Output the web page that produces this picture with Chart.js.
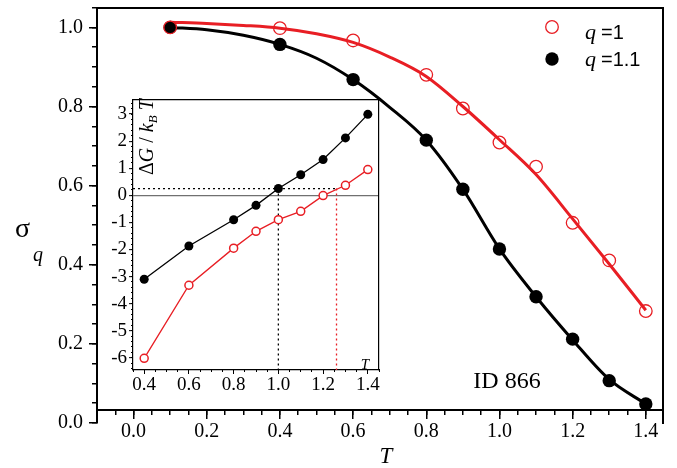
<!DOCTYPE html>
<html>
<head>
<meta charset="utf-8">
<script src="https://cdn.jsdelivr.net/npm/chart.js@4.4.0/dist/chart.umd.min.js"></script>
<style>
    html, body { margin: 0; padding: 0; background: #fff; }
    #wrap { position: relative; width: 677px; height: 468px; }
    #main { position: absolute; left: 0; top: 0; }
    #inset { position: absolute; left: 95px; top: 88px; }
    #textos { position: absolute; left: 0; top: 0; pointer-events: none; }
</style>
</head>
<body>
<div id="wrap">
    <canvas id="main" width="677" height="468"></canvas>
    <canvas id="inset" width="292" height="310"></canvas>
    <canvas id="textos" width="677" height="468"></canvas>
</div>
<script>
/*******************************************************************************/
// Datos

// grafico principal: sigma_q vs T
const tData = [0.1, 0.4, 0.6, 0.8, 0.9, 1.0, 1.1, 1.2, 1.3, 1.4];
const sigmaQ1 = [1.0, 0.998, 0.967, 0.880, 0.795, 0.709, 0.648, 0.506, 0.411, 0.283];
const sigmaQ11 = [1.0, 0.957, 0.868, 0.715, 0.591, 0.440, 0.319, 0.212, 0.107, 0.048];

// curvas de ajuste
const tFit = [0.1, 0.2, 0.3, 0.4, 0.5, 0.6, 0.7, 0.8, 0.9, 1.0, 1.1, 1.2, 1.3, 1.4];
const fitQ1 = [1.013, 1.010, 1.005, 0.998, 0.984, 0.962, 0.925, 0.876, 0.800, 0.716, 0.628, 0.516, 0.402, 0.285];
const fitQ11 = [1.0, 0.994, 0.980, 0.957, 0.922, 0.868, 0.798, 0.715, 0.591, 0.440, 0.319, 0.210, 0.110, 0.048];

const mainXTicks = [0.0, 0.2, 0.4, 0.6, 0.8, 1.0, 1.2, 1.4];
const mainYTicks = [0.0, 0.2, 0.4, 0.6, 0.8, 1.0];

// inset: dG / kT vs T
const tInset = [0.4, 0.6, 0.8, 0.9, 1.0, 1.1, 1.2, 1.3, 1.4];
const dgQ1 = [-6.02, -3.32, -1.95, -1.33, -0.90, -0.59, -0.01, 0.37, 0.95];
const dgQ11 = [-3.10, -1.87, -0.90, -0.37, 0.25, 0.76, 1.32, 2.12, 2.99];
const dgLevel = 0.25;
const tCrossQ11 = 1.0;
const tCrossQ1 = 1.26;

const insetXTicks = [0.4, 0.6, 0.8, 1.0, 1.2, 1.4];
const insetYTicks = [-6, -5, -4, -3, -2, -1, 0, 1, 2, 3];

/*******************************************************************************/
// Estilos

const RED = "rgb(232, 30, 36)";
const SERIF = "'Liberation Serif', 'Times New Roman', serif";
const SANS = "'Liberation Sans', Arial, sans-serif";

const X_MIN = -0.1, X_MAX = 1.447, Y_MIN = 0, Y_MAX = 1.05;
const X_AXIS_AT = 0.032;
const IX_MIN = 0.35, IX_MAX = 1.45, IY_MIN = -6.45, IY_MAX = 3.52;

function pares(xs, ys) {
    return xs.map((x, i) => ({ x: x, y: ys[i] }));
}

function fijarEje(size) {
    return function (scale) {
        if (size) {
            if (scale.isHorizontal()) scale.height = size;
            else scale.width = size;
        }
        scale.paddingTop = 0;
        scale.paddingBottom = 0;
        scale.paddingLeft = 0;
        scale.paddingRight = 0;
    };
}

function usarTicks(lista) {
    return function (scale) {
        scale.ticks = lista.map((v) => ({ value: v }));
    };
}

// eje sin etiquetas: solo marcas menores o solo el borde
function ejeExtra(axis, min, max, position, step, tickLength, lineWidth, borde) {
    return {
        type: "linear",
        axis: axis,
        min: min,
        max: max,
        position: position,
        ticks: { display: false, stepSize: step || 1, includeBounds: false },
        grid: {
            drawOnChartArea: false,
            drawTicks: tickLength > 0,
            tickLength: tickLength,
            color: "#000",
            tickColor: "#000",
            lineWidth: lineWidth
        },
        border: { display: borde, color: "#000", width: lineWidth },
        afterFit: fijarEje(0)
    };
}

/*******************************************************************************/
// Grafico principal

const fuenteTicks = { family: SERIF, size: 20 };

new Chart(document.getElementById("main"), {
    type: "scatter",
    data: {
        datasets: [
            {
                label: "q = 1",
                data: pares(tData, sigmaQ1),
                showLine: false,
                pointRadius: 6.3,
                pointBorderWidth: 1.3,
                pointBorderColor: RED,
                pointBackgroundColor: "rgba(0,0,0,0)",
                order: 0
            },
            {
                label: "q = 1.1",
                data: pares(tData, sigmaQ11),
                showLine: false,
                pointRadius: 6.7,
                pointBorderWidth: 0,
                pointBackgroundColor: "#000",
                order: 1
            },
            {
                label: "ajuste q = 1",
                data: pares(tFit, fitQ1),
                showLine: true,
                borderColor: RED,
                borderWidth: 3,
                pointRadius: 0,
                cubicInterpolationMode: "monotone",
                order: 2
            },
            {
                label: "ajuste q = 1.1",
                data: pares(tFit, fitQ11),
                showLine: true,
                borderColor: "#000",
                borderWidth: 3,
                pointRadius: 0,
                cubicInterpolationMode: "monotone",
                order: 3
            }
        ]
    },
    options: {
        responsive: false,
        animation: false,
        events: [],
        layout: { padding: { left: 0, right: 14, top: 6, bottom: 45 } },
        plugins: { legend: { display: false }, tooltip: { enabled: false } },
        scales: {
            x: {
                type: "linear",
                min: X_MIN,
                max: X_MAX,
                position: { y: X_AXIS_AT },
                afterBuildTicks: usarTicks(mainXTicks),
                ticks: {
                    autoSkip: false,
                    padding: 1,
                    color: "#000",
                    font: fuenteTicks,
                    callback: (v) => Number(v).toFixed(1)
                },
                grid: { drawOnChartArea: false, tickLength: 8, color: "#000", tickColor: "#000", lineWidth: 1.5 },
                border: { color: "#000", width: 2 },
                afterFit: fijarEje(0)
            },
            xMenor: ejeExtra("x", X_MIN, X_MAX, { y: X_AXIS_AT }, 0.05, 5, 1.5, false),
            xArriba: ejeExtra("x", X_MIN, X_MAX, { y: Y_MAX }, 1, 0, 2, true),
            y: {
                type: "linear",
                min: Y_MIN,
                max: Y_MAX,
                position: "left",
                afterBuildTicks: usarTicks(mainYTicks),
                ticks: {
                    padding: 6,
                    color: "#000",
                    font: fuenteTicks,
                    callback: (v) => Number(v).toFixed(1)
                },
                grid: { drawOnChartArea: false, tickLength: 8, color: "#000", tickColor: "#000", lineWidth: 1.5 },
                border: { color: "#000", width: 2 },
                afterFit: fijarEje(97)
            },
            yMenor: ejeExtra("y", Y_MIN, Y_MAX, { x: X_MIN }, 0.05, 5, 1.5, false),
            yDerecha: ejeExtra("y", Y_MIN, Y_MAX, { x: X_MAX }, 1, 0, 2, true)
        }
    }
});

/*******************************************************************************/
// Inset

const punteada = [2, 3];
const fuenteInset = { family: SERIF, size: 19 };

new Chart(document.getElementById("inset"), {
    type: "scatter",
    data: {
        datasets: [
            {
                label: "q = 1",
                data: pares(tInset, dgQ1),
                showLine: true,
                borderColor: RED,
                borderWidth: 1.3,
                pointRadius: 4,
                pointBorderWidth: 1.5,
                pointBorderColor: RED,
                pointBackgroundColor: "#fff",
                order: 0
            },
            {
                label: "q = 1.1",
                data: pares(tInset, dgQ11),
                showLine: true,
                borderColor: "#000",
                borderWidth: 1.3,
                pointRadius: 4.5,
                pointBorderWidth: 0,
                pointBackgroundColor: "#000",
                order: 1
            },
            {
                label: "nivel",
                data: [{ x: IX_MIN, y: dgLevel }, { x: tCrossQ1, y: dgLevel }],
                showLine: true,
                borderColor: "#000",
                borderWidth: 1.3,
                borderDash: punteada,
                pointRadius: 0,
                order: 2
            },
            {
                label: "Tc q = 1.1",
                data: [{ x: tCrossQ11, y: dgLevel }, { x: tCrossQ11, y: IY_MIN }],
                showLine: true,
                borderColor: "#000",
                borderWidth: 1.3,
                borderDash: punteada,
                pointRadius: 0,
                order: 3
            },
            {
                label: "Tc q = 1",
                data: [{ x: tCrossQ1, y: dgLevel }, { x: tCrossQ1, y: IY_MIN }],
                showLine: true,
                borderColor: RED,
                borderWidth: 1.3,
                borderDash: punteada,
                pointRadius: 0,
                order: 4
            }
        ]
    },
    options: {
        responsive: false,
        animation: false,
        events: [],
        layout: { padding: { left: 0, right: 8, top: 12, bottom: 0 } },
        plugins: { legend: { display: false }, tooltip: { enabled: false } },
        scales: {
            x: {
                type: "linear",
                min: IX_MIN,
                max: IX_MAX,
                position: "bottom",
                afterBuildTicks: usarTicks(insetXTicks),
                ticks: {
                    autoSkip: false,
                    padding: 0,
                    color: "#000",
                    font: fuenteInset,
                    callback: (v) => Number(v).toFixed(1)
                },
                grid: { drawOnChartArea: false, tickLength: 4, color: "#000", tickColor: "#000", lineWidth: 1 },
                border: { color: "#000", width: 1.2 },
                afterFit: fijarEje(28)
            },
            xMenor: ejeExtra("x", IX_MIN, IX_MAX, { y: IY_MIN }, 0.05, 2, 1, false),
            xArriba: ejeExtra("x", IX_MIN, IX_MAX, { y: IY_MAX }, 1, 0, 1.2, true),
            y: {
                type: "linear",
                min: IY_MIN,
                max: IY_MAX,
                position: "left",
                afterBuildTicks: usarTicks(insetYTicks),
                ticks: {
                    padding: 2,
                    color: "#000",
                    font: fuenteInset
                },
                grid: {
                    drawOnChartArea: true,
                    tickLength: 4,
                    color: (c) => (c.tick && c.tick.value === 0 ? "#707070" : "rgba(0,0,0,0)"),
                    tickColor: "#000",
                    lineWidth: 1.3,
                    tickWidth: 1
                },
                border: { color: "#000", width: 1.2 },
                afterFit: fijarEje(38)
            },
            yMenor: ejeExtra("y", IY_MIN, IY_MAX, { x: IX_MIN }, 0.2, 2, 1, false),
            yDerecha: ejeExtra("y", IY_MIN, IY_MAX, { x: IX_MAX }, 1, 0, 1.2, true)
        }
    }
});

/*******************************************************************************/
// Textos: titulos, leyenda, etiqueta (en un lienzo aparte encima)

function dibujarTextos() {
    const ctx = document.getElementById("textos").getContext("2d");
    ctx.fillStyle = "#000";
    ctx.textBaseline = "alphabetic";

    // titulo eje y: sigma_q
    ctx.textAlign = "left";
    ctx.font = "28px " + SERIF;
    ctx.fillText("σ", 15, 237);
    ctx.font = "italic 20px " + SERIF;
    ctx.fillText("q", 33, 261);

    // titulo eje x
    ctx.textAlign = "center";
    ctx.font = "italic 23px " + SERIF;
    ctx.fillText("T", 386, 463);

    ctx.font = "24px " + SERIF;
    ctx.fillText("ID 866", 507, 388);

    // T del inset
    ctx.font = "italic 15px " + SERIF;
    ctx.fillText("T", 365, 369);

    // leyenda
    const filas = [
        { texto: "=1", y: 27, base: 38.5, relleno: false },
        { texto: "=1.1", y: 59, base: 65.5, relleno: true }
    ];
    filas.forEach((f) => {
        ctx.beginPath();
        ctx.arc(552, f.y, f.relleno ? 6.7 : 6.3, 0, Math.PI * 2);
        if (f.relleno) {
            ctx.fillStyle = "#000";
            ctx.fill();
        } else {
            ctx.strokeStyle = RED;
            ctx.lineWidth = 1.3;
            ctx.stroke();
        }
        ctx.fillStyle = "#000";
        ctx.textAlign = "left";
        ctx.font = "italic 22px " + SERIF;
        ctx.fillText("q", 585, f.base);
        ctx.font = "20px " + SANS;
        ctx.fillText(f.texto, 601, f.base);
    });

    // titulo vertical del inset: Delta G / k_B T
    ctx.save();
    ctx.translate(153, 175);
    ctx.rotate(-Math.PI / 2);
    ctx.textAlign = "left";
    const partes = [
        { t: "Δ", f: "20px " + SERIF, dy: 0 },
        { t: "G", f: "italic 20px " + SERIF, dy: 0 },
        { t: " / ", f: "20px " + SERIF, dy: 0 },
        { t: "k", f: "italic 20px " + SERIF, dy: 0 },
        { t: "B", f: "italic 13px " + SERIF, dy: 4 },
        { t: " T", f: "italic 20px " + SERIF, dy: 0 }
    ];
    let x = 0;
    partes.forEach((p) => {
        ctx.font = p.f;
        ctx.fillText(p.t, x, p.dy);
        x += ctx.measureText(p.t).width;
    });
    ctx.restore();
}

dibujarTextos();
</script>
</body>
</html>
